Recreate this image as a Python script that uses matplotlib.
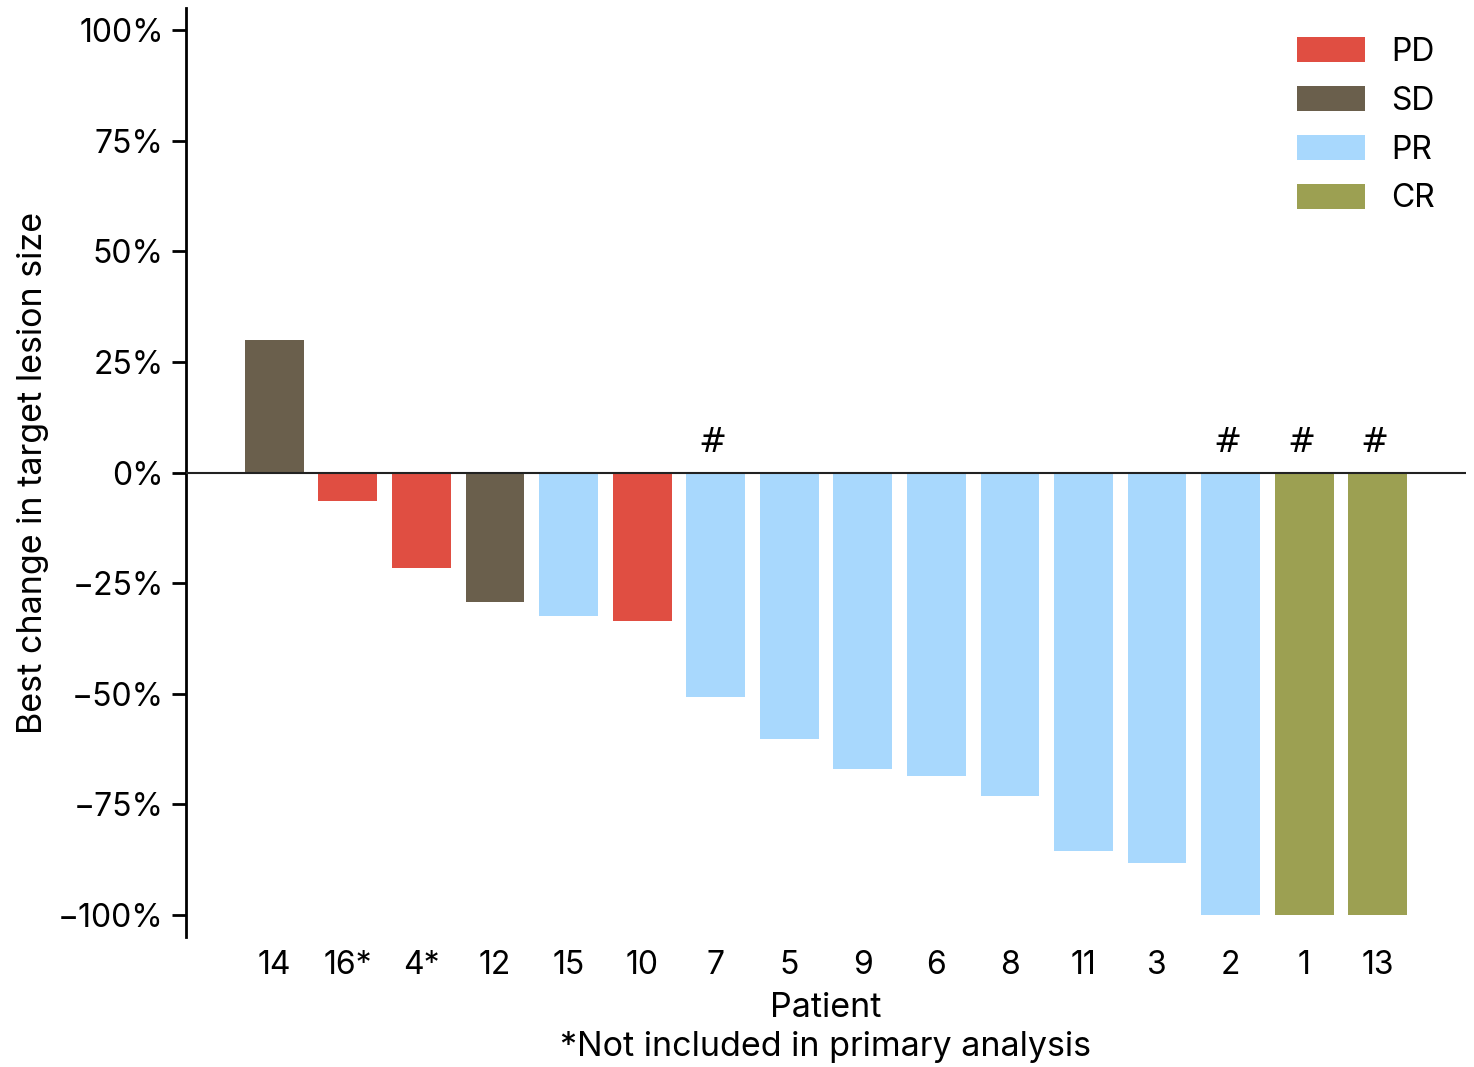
import matplotlib
matplotlib.use("Agg")
import matplotlib.pyplot as plt
from matplotlib.patches import Patch

# Patients ordered by best response
patients = ["14", "16*", "4*", "12", "15", "10", "7", "5", "9", "6", "8", "11", "3", "2", "1", "13"]
best_change = [30, -6.5, -21.5, -29.2, -32.4, -33.5, -50.7, -60.2, -67, -68.6, -73.1, -85.5, -88.2, -100, -100, -100]
response = ["SD", "PD", "PD", "SD", "PR", "PD", "PR", "PR", "PR", "PR", "PR", "PR", "PR", "PR", "CR", "CR"]
marked = ["7", "2", "1", "13"]

categories = ["PD", "SD", "PR", "CR"]
colors = {"PD": "#E04E42", "SD": "#6A5F4C", "PR": "#A8D8FD", "CR": "#9CA052"}

plt.rcParams["font.family"] = ["Inter", "DejaVu Sans"]

fig = plt.figure(figsize=(14.74, 10.67), dpi=100)
ax = fig.add_axes([0.1262, 0.1218, 0.8684, 0.8707])

x = list(range(len(patients)))
ax.bar(x, best_change, width=0.8, color=[colors[r] for r in response], zorder=2)
ax.axhline(0, color="#222222", linewidth=1.5, zorder=3)

for xi, p in zip(x, patients):
    if p in marked:
        ax.text(xi - 0.04, 3, "#", ha="center", va="bottom", fontsize=24,
                family="DejaVu Sans", color="black")

ax.set_xlim(-1.2, 16.2)
ax.set_ylim(-105, 105)
ax.set_yticks([100, 75, 50, 25, 0, -25, -50, -75, -100])
ax.set_yticklabels(["100%", "75%", "50%", "25%", "0%", "\u2212" + "25%", "\u2212" + "50%",
                    "\u2212" + "75%", "\u2212" + "100%"])
ax.set_xticks(x)
ax.set_xticklabels(patients)
ax.tick_params(axis="y", labelsize=23, length=10, width=2, pad=6)
ax.tick_params(axis="x", labelsize=23, length=0, pad=9)

for s in ["top", "right", "bottom"]:
    ax.spines[s].set_visible(False)
ax.spines["left"].set_linewidth(2)

ax.set_ylabel("Best change in target lesion size", fontsize=24.5)
ax.yaxis.set_label_coords(-0.107, 0.5)
ax.set_xlabel("Patient\n*Not included in primary analysis", fontsize=24.5, labelpad=8,
              linespacing=1.3)

handles = [Patch(facecolor=colors[c], label=c) for c in categories]
ax.legend(handles=handles, loc="upper right", frameon=False, fontsize=23,
          handlelength=2.15, handleheight=0.8, handletextpad=0.8, labelspacing=0.56,
          bbox_to_anchor=(0.998, 1.0))

fig.savefig("out.png", dpi=100)
